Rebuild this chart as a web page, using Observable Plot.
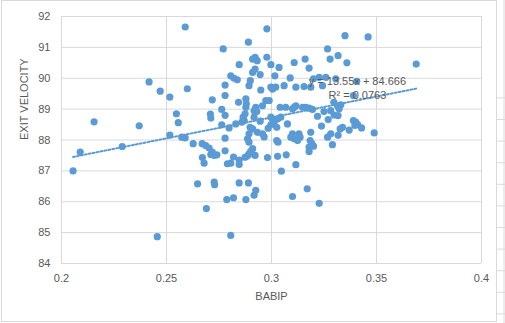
<!DOCTYPE html>
<html>
<head>
<meta charset="utf-8">
<script src="https://cdn.jsdelivr.net/npm/d3@7"></script>
<script src="https://cdn.jsdelivr.net/npm/@observablehq/plot@0.6"></script>
<style>
  html, body { margin: 0; padding: 0; background: #ffffff; }
  #wrap { position: relative; width: 505px; height: 323px; overflow: hidden; }
  #border { position: absolute; left: 1px; top: 0px; width: 494px; height: 320px; border: 1px solid #d9d9d9; }
  #sheet { position: absolute; left: 0; top: 0; }
  #chart { position: absolute; left: 0; top: 0; }
</style>
</head>
<body>
<div id="wrap">
  <svg id="sheet" width="505" height="323"></svg>
  <div id="border"></div>
  <div id="chart"></div>
</div>
<script>
// ---- data ----
const babip = [
  0.2055,0.2089,0.2155,0.2289,0.2370,0.2417,0.2456,0.2470,0.2516,0.2516,
  0.2547,0.2556,0.2573,0.2589,0.2589,0.2599,0.2627,0.2648,0.2670,0.2687,
  0.2703,0.2718,0.2711,0.2727,0.2740,0.2671,0.2679,0.2690,0.2709,0.2711,
  0.2718,0.2727,0.2729,0.2763,0.2763,0.2770,0.2779,0.2779,0.2779,0.2779,
  0.2779,0.2787,0.2790,0.2806,0.2798,0.2806,0.2806,0.2822,0.2837,0.2819,
  0.2819,0.2830,0.2843,0.2846,0.2846,0.2846,0.2846,0.2859,0.2870,0.2874,
  0.2865,0.2878,0.2880,0.2878,0.2878,0.2874,0.2885,0.2890,0.2890,0.2893,
  0.2899,0.2893,0.2886,0.2893,0.2898,0.2910,0.2893,0.2901,0.2910,0.2910,
  0.2922,0.2932,0.2910,0.2922,0.2917,0.2917,0.2925,0.2930,0.2917,0.2925,
  0.2922,0.2933,0.2946,0.2949,0.2946,0.2957,0.2957,0.2965,0.2973,0.2989,
  0.2978,0.2978,0.2984,0.2997,0.3012,0.2981,0.2997,0.2997,0.3005,0.3020,
  0.2997,0.3005,0.3016,0.3029,0.3044,0.3025,0.3025,0.3031,0.3029,0.3036,
  0.3041,0.3047,0.3060,0.3068,0.3070,0.3076,0.3089,0.3092,0.3100,0.3108,
  0.3100,0.3108,0.3116,0.3100,0.3108,0.3116,0.3116,0.3124,0.3131,0.3136,
  0.3148,0.3163,0.3155,0.3160,0.3170,0.3179,0.3179,0.3195,0.3179,0.3184,
  0.3192,0.3179,0.3200,0.3187,0.3187,0.3200,0.3219,0.3227,0.3227,0.3238,
  0.3259,0.3243,0.3250,0.3267,0.3270,0.3267,0.3279,0.3282,0.3282,0.3290,
  0.3297,0.3314,0.3330,0.3322,0.3298,0.3317,0.3306,0.3317,0.3317,0.3327,
  0.3338,0.3350,0.3359,0.3370,0.3390,0.3390,0.3401,0.3410,0.3397,0.3406,
  0.3429,0.3460,0.3489,0.3689
];
const exitVelocity = [
  87.00,87.61,88.59,87.79,88.46,89.88,84.87,89.58,89.39,88.16,
  88.85,88.56,88.09,88.07,91.66,89.66,87.88,86.58,87.88,87.82,
  87.74,87.61,87.53,87.50,87.52,87.43,87.25,85.78,88.84,88.71,
  89.30,86.64,86.55,88.99,88.49,90.95,89.78,89.44,88.80,88.06,
  87.65,86.07,87.23,87.25,88.39,84.91,90.08,90.00,89.95,87.45,
  86.13,88.52,89.22,90.44,87.35,87.21,86.61,88.58,88.63,88.85,
  88.74,89.33,89.17,89.06,86.07,87.44,87.48,86.61,91.17,89.76,
  89.92,88.20,88.04,87.93,88.41,88.36,87.55,87.63,87.72,90.62,
  90.68,90.57,90.19,90.30,88.95,88.74,89.06,88.92,86.21,86.37,
  87.50,88.25,90.12,89.62,88.61,89.11,88.20,88.10,89.28,89.28,
  91.60,90.68,88.38,88.49,88.56,87.43,90.44,89.71,89.65,89.71,
  88.74,88.68,90.08,88.68,88.74,88.41,87.98,87.93,87.47,90.35,
  89.06,86.99,89.76,89.06,87.52,88.52,90.01,88.09,88.20,88.04,
  89.01,89.06,89.11,86.17,90.51,89.71,87.20,87.98,88.20,88.09,
  89.06,89.06,89.73,90.62,86.42,90.33,89.03,88.99,87.63,87.98,
  87.88,87.77,87.80,88.25,89.71,89.98,88.77,90.03,85.95,88.45,
  90.03,89.76,88.92,90.95,88.66,88.09,90.62,88.95,88.20,87.85,
  89.22,89.11,89.14,89.01,88.81,88.79,89.98,90.73,88.15,88.36,
  88.41,91.38,90.50,88.32,89.44,88.63,88.58,88.50,88.47,89.90,
  88.39,91.34,88.23,90.46
];
const xTicks = [0.2, 0.25, 0.3, 0.35, 0.4];
const yTicks = [84, 85, 86, 87, 88, 89, 90, 91, 92];
const trendSlope = 13.55;
const trendIntercept = 84.666;
const trendLabels = ["y = 13.55x + 84.666", "R² = 0.0763"];
const xTitle = "BABIP";
const yTitle = "EXIT VELOCITY";

// ---- build tables ----
const points = babip.map((b, i) => ({babip: b, ev: exitVelocity[i]}));
const xExtent = d3.extent(babip);
const trend = xExtent.map(x => ({babip: x, ev: trendSlope * x + trendIntercept}));
const labelX = 0.3409;
const labelRows = [
  {text: trendLabels[0], babip: labelX, ev: 89.90},
  {text: trendLabels[1], babip: labelX, ev: 89.44}
];

const blue = "#5B9BD5";
const textColor = "#595959";
const gridColor = "#d9d9d9";

const chart = Plot.plot({
  width: 505,
  height: 323,
  marginLeft: 61,
  marginRight: 24,
  marginTop: 16,
  marginBottom: 60,
  style: {fontFamily: "'Liberation Sans', Arial, sans-serif", fontSize: "11px", color: textColor, background: "transparent", overflow: "visible"},
  x: {domain: [0.2, 0.4], ticks: xTicks, tickFormat: d => String(d), tickSize: 0, tickPadding: 11, label: null},
  y: {domain: [84, 92], ticks: yTicks, tickSize: 0, tickPadding: 11, label: null},
  marks: [
    Plot.ruleX(xTicks, {stroke: gridColor, strokeWidth: 1}),
    Plot.ruleY(yTicks, {stroke: gridColor, strokeWidth: 1}),
    Plot.dot(points, {x: "babip", y: "ev", r: 3.6, fill: blue, stroke: "none"}),
    Plot.line(trend, {x: "babip", y: "ev", stroke: blue, strokeWidth: 2, strokeDasharray: "2 2"}),
    Plot.text(labelRows, {x: "babip", y: "ev", text: "text", fill: textColor, fontSize: 11}),
    Plot.text([xTitle], {frameAnchor: "bottom", dy: 36, text: d => d, fill: textColor, fontSize: 11}),
    Plot.text([yTitle], {frameAnchor: "left", dx: -37, rotate: -90, text: d => d, fill: textColor, fontSize: 11})
  ]
});
document.getElementById("chart").appendChild(chart);

// spreadsheet cell lines visible at the right edge (decoration)
const sheet = d3.select("#sheet");
sheet.append("line").attr("x1", 504).attr("x2", 504).attr("y1", 0).attr("y2", 323).attr("stroke", "#dadada");
d3.range(-3, 15).forEach(k => {
  const y = 162.7 + k * 21.6;
  if (y > 0 && y < 323) sheet.append("line").attr("x1", 497).attr("x2", 505).attr("y1", y).attr("y2", y).attr("stroke", "#dadada");
});
</script>
</body>
</html>
